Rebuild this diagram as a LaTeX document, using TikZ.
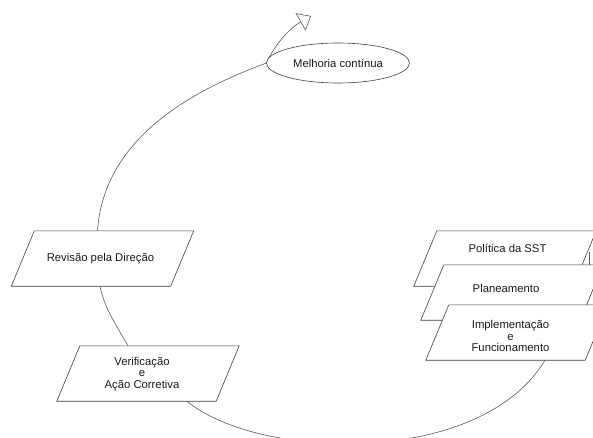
\documentclass[tikz,border=0pt]{standalone}
\usepackage{fontspec}
\setmainfont{Liberation Sans}
\usetikzlibrary{shapes.geometric,arrows.meta}
\newcommand\pgram[1]{\path[shp] ([xshift=11.5pt]#1.north west) -- ([xshift=11.5pt]#1.north east) -- ([xshift=-11.5pt]#1.south east) -- ([xshift=-11.5pt]#1.south west) -- cycle;}
\begin{document}
\begin{tikzpicture}[x=1pt,y=-1pt,
  conn/.style={draw=black!65, line width=0.6pt},
  shp/.style={draw=black!75, line width=0.6pt, fill=white},
  area/.style={minimum width=159pt, minimum height=55pt, inner sep=0pt},
  lbl/.style={font=\fontsize{11.3}{11.6}\selectfont, align=center, text=black!90, inner sep=0pt}]
\useasboundingbox[fill=white] (0,0) rectangle (593,438);
% shape areas
\node[area] (rev) at (102.5,258.5) {};
\node[area] (ver) at (148,373.5) {};
\node[area] (pol) at (505,258.5) {};
\node[area] (pla) at (512,292.5) {};
\node[area] (imp) at (517,332.5) {};
\coordinate (arrowend) at (311,16);
\coordinate (pp) at (589,252);
% connectors
\draw[conn] (338-71.5,63) coordinate (melw) .. controls (196,89) and (104,136) .. ([xshift=-5pt]rev.north);
\draw[conn] ([xshift=-2.5pt]rev.south) .. controls (104,308) and (118,328) .. ([xshift=-20pt]ver.north);
\draw[conn] ([xshift=39pt]ver.south) .. controls (258,460) and (480,468) .. ([xshift=28pt]imp.south);
\draw[conn, -{Triangle[open,length=12pt,width=20pt]}] (melw) .. controls (275,44) and (290,28) .. (arrowend);
\draw[conn] (pp) -- (pp |- pla.north);
% shapes
\pgram{rev}
\node[lbl] (revt) at (100.5,259) {Revisão pela Direção};
\pgram{ver}
\node[lbl] (vert) at (142,374) {Verificação\\e\\Ação Corretiva};
\pgram{pol}
\node[lbl] (polt) at (507.5,248) {Política da SST};
\pgram{pla}
\node[lbl] (plat) at (506,288) {Planeamento};
\pgram{imp}
\node[lbl] (impt) at (510.5,336) {Implementação\\e\\Funcionamento};
\node[ellipse, draw=black!75, line width=0.6pt, fill=white, minimum width=143pt, minimum height=40pt, lbl] (mel) at (338,63) {Melhoria contínua};
\end{tikzpicture}
\end{document}
